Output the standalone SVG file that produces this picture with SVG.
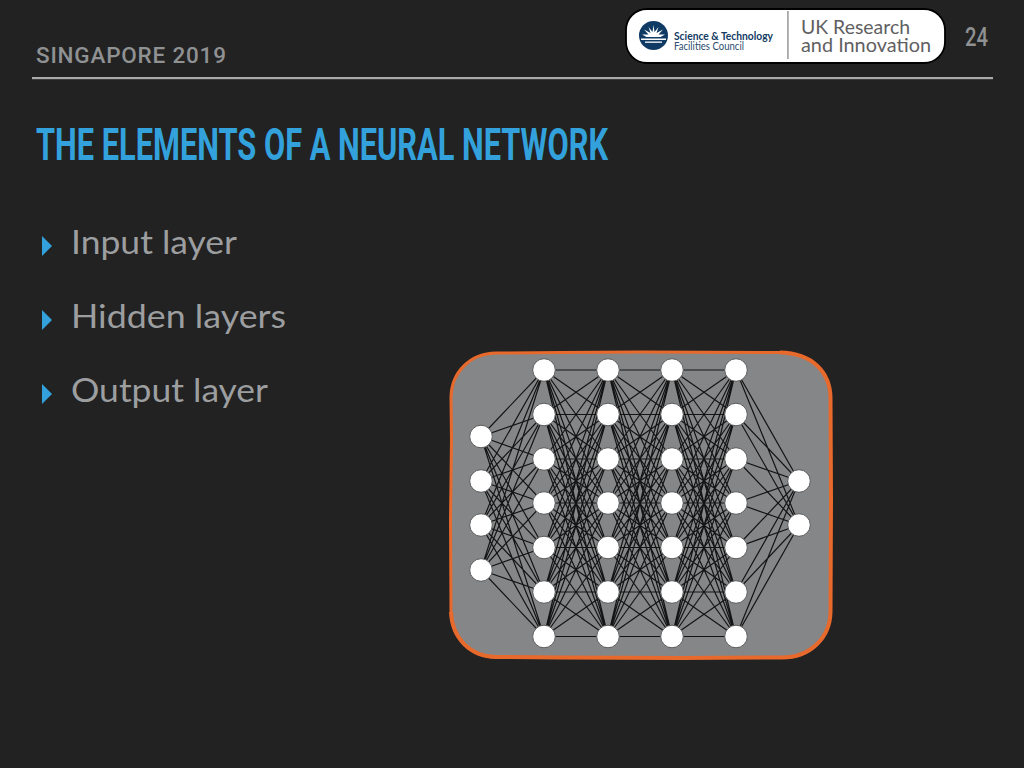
<svg xmlns="http://www.w3.org/2000/svg" width="1024" height="768" viewBox="0 0 1024 768">
<style>
.body{font-family:"Lato","Open Sans",sans-serif;font-size:33.500px;fill:#9c9ea0}
.din{font-family:"Roboto","Liberation Sans",sans-serif}
.n circle{fill:#fff;stroke:#5a5a5a;stroke-width:1}
.c{fill:none;stroke:#141414;stroke-width:1.2}
.arrow{fill:#33a2dc}
.logo{font-family:"Lato","Open Sans",sans-serif;fill:#5f6062}
.edge{fill:none;stroke:#e8692c}
</style>
<defs>
<path id="full7" d="M0 370L64 370M0 370L64 414.5M0 370L64 459M0 370L64 503M0 370L64 547.5M0 370L64 592M0 370L64 636.5
M0 414.5L64 370M0 414.5L64 414.5M0 414.5L64 459M0 414.5L64 503M0 414.5L64 547.5M0 414.5L64 592M0 414.5L64 636.5
M0 459L64 370M0 459L64 414.5M0 459L64 459M0 459L64 503M0 459L64 547.5M0 459L64 592M0 459L64 636.5
M0 503L64 370M0 503L64 414.5M0 503L64 459M0 503L64 503M0 503L64 547.5M0 503L64 592M0 503L64 636.5
M0 547.5L64 370M0 547.5L64 414.5M0 547.5L64 459M0 547.5L64 503M0 547.5L64 547.5M0 547.5L64 592M0 547.5L64 636.5
M0 592L64 370M0 592L64 414.5M0 592L64 459M0 592L64 503M0 592L64 547.5M0 592L64 592M0 592L64 636.5
M0 636.5L64 370M0 636.5L64 414.5M0 636.5L64 459M0 636.5L64 503M0 636.5L64 547.5M0 636.5L64 592M0 636.5L64 636.5"/>
<path id="tri" class="arrow" d="M0 0L10 10L0 20Z"/>
</defs>
<rect width="1024" height="768" fill="#222222"/>

<text class="din" x="36" y="63" font-size="22.500" font-weight="500" fill="#8f9193" textLength="190">SINGAPORE 2019</text>
<rect x="32" y="77" width="961" height="2.200" fill="#a9a9a9"/>
<text class="din" x="965" y="46" font-size="25" font-weight="500" fill="#8f9193" textLength="23" lengthAdjust="spacingAndGlyphs">24</text>
<text class="din" x="36" y="159.500" font-size="45" font-weight="700" fill="#33a2dc" textLength="572" lengthAdjust="spacingAndGlyphs">THE ELEMENTS OF A NEURAL NETWORK</text>

<use href="#tri" x="42" y="236"/>
<text class="body" x="71" y="254" textLength="166" lengthAdjust="spacingAndGlyphs">Input layer</text>
<use href="#tri" x="42" y="310"/>
<text class="body" x="71" y="328" textLength="215" lengthAdjust="spacingAndGlyphs">Hidden layers</text>
<use href="#tri" x="42" y="384"/>
<text class="body" x="71" y="402" textLength="197" lengthAdjust="spacingAndGlyphs">Output layer</text>

<g id="logo">
<rect x="626" y="9" width="319" height="54" rx="21" fill="#fff" stroke="#000" stroke-width="1.800"/>
<circle cx="653.500" cy="35.500" r="14.500" fill="#0f3a63"/>
<path d="M653.500 25L654.500 32L658.500 27L656.500 33L663 29.500L658.500 34.500L665 34.500L660.500 37L646.500 37L642 34.500L648.500 34.500L644 29.500L650.500 33L648.500 27L652.500 32Z" fill="#fff"/>
<rect x="641" y="38.500" width="25" height="1.500" fill="#fff"/>
<rect x="645" y="41.500" width="17" height="1.300" fill="#fff"/>
<text x="674" y="39.500" font-family="Lato,'Open Sans',sans-serif" font-size="11" font-weight="700" fill="#123a63" textLength="99" lengthAdjust="spacingAndGlyphs">Science &amp; Technology</text>
<text x="674" y="49.500" font-family="Lato,'Open Sans',sans-serif" font-size="11" fill="#2c4d70" textLength="70" lengthAdjust="spacingAndGlyphs">Facilities Council</text>
<rect x="787" y="11" width="1.800" height="48" fill="#a8a8a8"/>
<text class="logo" x="801" y="33.500" font-size="19" textLength="109" lengthAdjust="spacingAndGlyphs">UK Research</text>
<text class="logo" x="801" y="52" font-size="19" textLength="130" lengthAdjust="spacingAndGlyphs">and Innovation</text>
</g>

<g id="panel">
<rect x="450.500" y="352.500" width="381" height="306" rx="45" fill="#848688"/>
<path class="edge" stroke-width="3" d="M451 612L450.500 520L451.500 440L451 397C451.500 372 470 353.500 496 353L560 352.500L640 352L780 352.500"/>
<path class="edge" stroke-width="4" d="M780 352.500C812 353 831 372 830.500 400L831 500L830.500 612C830 638 810 657.500 782 657.500L680 658L560 657.500L496 657C470 656.500 452 638 451 612"/>
</g>

<g id="connectors" class="c">
<path d="M481 436.500L544 370M481 436.500L544 414.500M481 436.500L544 459M481 436.500L544 503M481 436.500L544 547.500M481 436.500L544 592M481 436.500L544 636.500
M481 481L544 370M481 481L544 414.500M481 481L544 459M481 481L544 503M481 481L544 547.500M481 481L544 592M481 481L544 636.500
M481 525L544 370M481 525L544 414.500M481 525L544 459M481 525L544 503M481 525L544 547.500M481 525L544 592M481 525L544 636.500
M481 570L544 370M481 570L544 414.500M481 570L544 459M481 570L544 503M481 570L544 547.500M481 570L544 592M481 570L544 636.500"/>
<use href="#full7" x="544"/>
<use href="#full7" x="608"/>
<use href="#full7" x="672"/>
<path d="M736 370L799 481M736 414.500L799 481M736 459L799 481M736 503L799 481M736 547.500L799 481M736 592L799 481M736 636.500L799 481
M736 370L799 525M736 414.500L799 525M736 459L799 525M736 503L799 525M736 547.500L799 525M736 592L799 525M736 636.500L799 525"/>
</g>

<g id="input-1" class="n"><circle cx="481" cy="436.500" r="11.300"/></g>
<g id="input-2" class="n"><circle cx="481" cy="481" r="11.300"/></g>
<g id="input-3" class="n"><circle cx="481" cy="525" r="11.300"/></g>
<g id="input-4" class="n"><circle cx="481" cy="570" r="11.300"/></g>

<g id="h1-1" class="n"><circle cx="544" cy="370" r="11.300"/></g>
<g id="h1-2" class="n"><circle cx="544" cy="414.500" r="11.300"/></g>
<g id="h1-3" class="n"><circle cx="544" cy="459" r="11.300"/></g>
<g id="h1-4" class="n"><circle cx="544" cy="503" r="11.300"/></g>
<g id="h1-5" class="n"><circle cx="544" cy="547.500" r="11.300"/></g>
<g id="h1-6" class="n"><circle cx="544" cy="592" r="11.300"/></g>
<g id="h1-7" class="n"><circle cx="544" cy="636.500" r="11.300"/></g>

<g id="h2-1" class="n"><circle cx="608" cy="370" r="11.300"/></g>
<g id="h2-2" class="n"><circle cx="608" cy="414.500" r="11.300"/></g>
<g id="h2-3" class="n"><circle cx="608" cy="459" r="11.300"/></g>
<g id="h2-4" class="n"><circle cx="608" cy="503" r="11.300"/></g>
<g id="h2-5" class="n"><circle cx="608" cy="547.500" r="11.300"/></g>
<g id="h2-6" class="n"><circle cx="608" cy="592" r="11.300"/></g>
<g id="h2-7" class="n"><circle cx="608" cy="636.500" r="11.300"/></g>

<g id="h3-1" class="n"><circle cx="672" cy="370" r="11.300"/></g>
<g id="h3-2" class="n"><circle cx="672" cy="414.500" r="11.300"/></g>
<g id="h3-3" class="n"><circle cx="672" cy="459" r="11.300"/></g>
<g id="h3-4" class="n"><circle cx="672" cy="503" r="11.300"/></g>
<g id="h3-5" class="n"><circle cx="672" cy="547.500" r="11.300"/></g>
<g id="h3-6" class="n"><circle cx="672" cy="592" r="11.300"/></g>
<g id="h3-7" class="n"><circle cx="672" cy="636.500" r="11.300"/></g>

<g id="h4-1" class="n"><circle cx="736" cy="370" r="11.300"/></g>
<g id="h4-2" class="n"><circle cx="736" cy="414.500" r="11.300"/></g>
<g id="h4-3" class="n"><circle cx="736" cy="459" r="11.300"/></g>
<g id="h4-4" class="n"><circle cx="736" cy="503" r="11.300"/></g>
<g id="h4-5" class="n"><circle cx="736" cy="547.500" r="11.300"/></g>
<g id="h4-6" class="n"><circle cx="736" cy="592" r="11.300"/></g>
<g id="h4-7" class="n"><circle cx="736" cy="636.500" r="11.300"/></g>

<g id="output-1" class="n"><circle cx="799" cy="481" r="11.300"/></g>
<g id="output-2" class="n"><circle cx="799" cy="525" r="11.300"/></g>
</svg>
